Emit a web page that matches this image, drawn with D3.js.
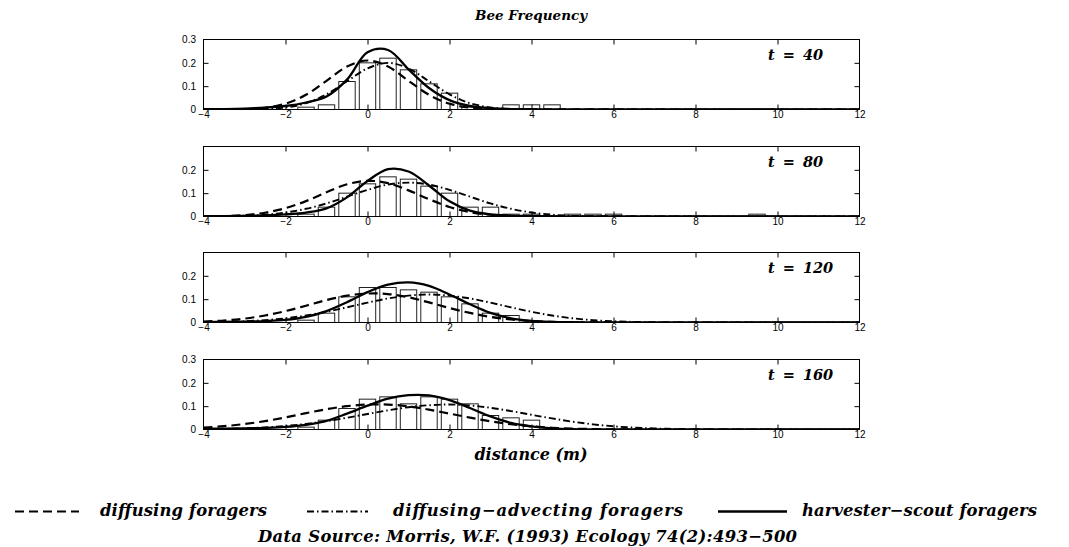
<!DOCTYPE html>
<html>
<head>
<meta charset="utf-8">
<script src="https://cdn.jsdelivr.net/npm/d3@7"></script>
<style>
  body { margin: 0; background: #fff; }
  svg { display: block; }
  .tick text { font-family: "Liberation Sans", Arial, Helvetica, sans-serif; font-size: 10px; fill: #000; }
  .serif { font-family: "DejaVu Serif", serif; font-weight: bold; font-style: italic; fill: #000; }
</style>
</head>
<body>
<svg id="chart" width="1069" height="547"></svg>
<script>
// Distance grid (m) on which the model densities are tabulated
const distance = [-4, -3.5, -3, -2.5, -2, -1.5, -1, -0.5, 0, 0.5, 1, 1.5, 2, 2.5, 3, 3.5, 4,
                  4.5, 5, 5.5, 6, 6.5, 7, 7.5, 8, 8.5, 9, 9.5, 10, 10.5, 11, 11.5, 12];

// Diffusing foragers
const diffusing40  = [0, 0.0003, 0.0017, 0.0076, 0.025, 0.063, 0.123, 0.184, 0.21, 0.184, 0.123, 0.063, 0.025, 0.0076, 0.0017, 0.0003, 0,
                      0, 0, 0, 0, 0, 0, 0, 0, 0, 0, 0, 0, 0, 0, 0, 0];
const diffusing80  = [0.0005, 0.0019, 0.0061, 0.016, 0.036, 0.066, 0.104, 0.138, 0.153, 0.143, 0.112, 0.074, 0.041, 0.019, 0.0075, 0.0025, 0.0007,
                      0.0002, 0, 0, 0, 0, 0, 0, 0, 0, 0, 0, 0, 0, 0, 0, 0];
const diffusing120 = [0.0038, 0.0084, 0.0167, 0.030, 0.049, 0.072, 0.096, 0.115, 0.124, 0.122, 0.108, 0.086, 0.062, 0.041, 0.024, 0.013, 0.0062,
                      0.0027, 0.0011, 0.0004, 0.0001, 0, 0, 0, 0, 0, 0, 0, 0, 0, 0, 0, 0];
const diffusing160 = [0.0079, 0.0142, 0.0235, 0.036, 0.052, 0.070, 0.087, 0.100, 0.107, 0.107, 0.099, 0.085, 0.068, 0.051, 0.035, 0.0227, 0.0135,
                      0.0075, 0.0039, 0.0019, 0.0008, 0.0003, 0.0001, 0, 0, 0, 0, 0, 0, 0, 0, 0, 0];

// Diffusing-advecting foragers
const advecting40  = [0, 0.0001, 0.0004, 0.0022, 0.0088, 0.027, 0.065, 0.121, 0.176, 0.2, 0.176, 0.121, 0.065, 0.027, 0.0088, 0.0022, 0.0004,
                      0.0001, 0, 0, 0, 0, 0, 0, 0, 0, 0, 0, 0, 0, 0, 0, 0];
const advecting80  = [0.0004, 0.0012, 0.0032, 0.0078, 0.017, 0.033, 0.056, 0.085, 0.114, 0.137, 0.145, 0.137, 0.114, 0.085, 0.056, 0.033, 0.017,
                      0.0078, 0.0032, 0.0012, 0.0004, 0, 0, 0, 0, 0, 0, 0, 0, 0, 0, 0, 0];
const advecting120 = [0.0011, 0.0025, 0.0053, 0.0102, 0.018, 0.030, 0.046, 0.065, 0.085, 0.103, 0.115, 0.12, 0.115, 0.103, 0.085, 0.065, 0.046,
                      0.030, 0.018, 0.0102, 0.0053, 0.0025, 0.0011, 0.0004, 0.0001, 0, 0, 0, 0, 0, 0, 0, 0];
const advecting160 = [0.0013, 0.0026, 0.005, 0.009, 0.0152, 0.024, 0.036, 0.0505, 0.0665, 0.082, 0.0956, 0.104, 0.107, 0.103, 0.093, 0.079, 0.063,
                      0.0475, 0.0335, 0.0222, 0.0138, 0.008, 0.0044, 0.0023, 0.0011, 0.0005, 0.0002, 0, 0, 0, 0, 0, 0];

// Harvester-scout foragers
const scout40  = [0.001, 0.002, 0.004, 0.008, 0.015, 0.03, 0.056, 0.128, 0.245, 0.255, 0.172, 0.092, 0.04, 0.015, 0.006, 0.002, 0.001,
                  0, 0, 0, 0, 0, 0, 0, 0, 0, 0, 0, 0, 0, 0, 0, 0];
const scout80  = [0.001, 0.002, 0.003, 0.005, 0.009, 0.017, 0.035, 0.082, 0.152, 0.203, 0.193, 0.133, 0.065, 0.025, 0.009, 0.004, 0.002,
                  0.001, 0, 0, 0, 0, 0, 0, 0, 0, 0, 0, 0, 0, 0, 0, 0];
const scout120 = [0.002, 0.003, 0.004, 0.006, 0.011, 0.024, 0.049, 0.087, 0.13, 0.162, 0.172, 0.157, 0.12, 0.078, 0.041, 0.018, 0.007,
                  0.0025, 0.001, 0.0003, 0, 0, 0, 0, 0, 0, 0, 0, 0, 0, 0, 0, 0];
const scout160 = [0.003, 0.004, 0.005, 0.007, 0.011, 0.02, 0.037, 0.068, 0.102, 0.132, 0.147, 0.146, 0.126, 0.092, 0.056, 0.028, 0.013,
                  0.005, 0.0015, 0.0005, 0.0002, 0, 0, 0, 0, 0, 0, 0, 0, 0, 0, 0, 0];

// Observed bee frequencies per 0.5 m distance class
const binCenters = [-1.5, -1, -0.5, 0, 0.5, 1, 1.5, 2, 2.5, 3, 3.5, 4, 4.5, 5, 5.5, 6, 6.5, 7, 7.5, 8, 8.5, 9, 9.5];
const bees40  = [0.01, 0.02, 0.12, 0.20, 0.22, 0.17, 0.11, 0.07, 0.01, 0, 0.02, 0.02, 0.02, 0, 0, 0, 0, 0, 0, 0, 0, 0, 0];
const bees80  = [0.01, 0.04, 0.10, 0.14, 0.17, 0.16, 0.13, 0.10, 0.04, 0.04, 0.01, 0.01, 0, 0.01, 0.01, 0.01, 0, 0, 0, 0, 0, 0, 0.01];
const bees120 = [0.01, 0.04, 0.11, 0.15, 0.15, 0.14, 0.13, 0.11, 0.08, 0.04, 0.03, 0, 0, 0, 0, 0, 0, 0, 0, 0, 0, 0, 0];
const bees160 = [0.01, 0.04, 0.09, 0.13, 0.14, 0.11, 0.14, 0.13, 0.11, 0.06, 0.05, 0.04, 0, 0, 0, 0, 0, 0, 0, 0, 0, 0, 0];

const times = [40, 80, 120, 160];
const xTicks = [-4, -2, 0, 2, 4, 6, 8, 10, 12];
const yTicksFull = [0, 0.1, 0.2, 0.3];
const yTicksShort = [0, 0.1, 0.2];

const panels = [
  { time: times[0], bees: bees40,  diffusing: diffusing40,  advecting: advecting40,  scout: scout40,  yTicks: yTicksFull },
  { time: times[1], bees: bees80,  diffusing: diffusing80,  advecting: advecting80,  scout: scout80,  yTicks: yTicksShort },
  { time: times[2], bees: bees120, diffusing: diffusing120, advecting: advecting120, scout: scout120, yTicks: yTicksShort },
  { time: times[3], bees: bees160, diffusing: diffusing160, advecting: advecting160, scout: scout160, yTicks: yTicksFull }
];

const legendLabels = ["diffusing foragers", "diffusing\u2212advecting foragers", "harvester\u2212scout foragers"];

// ---------------------------------------------------------------
const svg = d3.select("#chart");
const plotLeft = 203.5, plotRight = 859.5;
const panelTops = [39.5, 146.5, 252.5, 359.5];
const panelHeight = 70;
const tickLen = 5;

const x = d3.scaleLinear().domain([-4, 12]).range([plotLeft, plotRight]);

const styles = {
  diffusing: { dash: "9,5", width: 2.2 },
  advecting: { dash: "7,3,1.5,3", width: 1.9 },
  scout:     { dash: null, width: 2.3 }
};

panels.forEach((p, i) => {
  const top = panelTops[i], bottom = top + panelHeight;
  const y = d3.scaleLinear().domain([0, 0.3]).range([bottom, top]);
  const g = svg.append("g");

  const clipId = "clip" + i;
  svg.append("clipPath").attr("id", clipId)
    .append("rect").attr("x", plotLeft).attr("y", top)
    .attr("width", plotRight - plotLeft).attr("height", panelHeight);

  // histogram bars
  const bins = binCenters.map((c, k) => ({ c, v: p.bees[k] })).filter(d => d.v > 0);
  g.append("g").selectAll("rect").data(bins).join("rect")
    .attr("x", d => x(d.c - 0.2))
    .attr("width", d => x(d.c + 0.2) - x(d.c - 0.2))
    .attr("y", d => y(d.v))
    .attr("height", d => y(0) - y(d.v))
    .attr("fill", "#fff")
    .attr("stroke", "#222")
    .attr("stroke-width", 1);

  // model curves
  const line = d3.line()
    .x((d, k) => x(distance[k]))
    .y(d => y(d))
    .curve(d3.curveCatmullRom.alpha(0.5));

  const curves = g.append("g").attr("clip-path", `url(#${clipId})`);
  ["diffusing", "advecting", "scout"].forEach(key => {
    curves.append("path")
      .attr("d", line(p[key]))
      .attr("fill", "none")
      .attr("stroke", "#000")
      .attr("stroke-width", styles[key].width)
      .attr("stroke-dasharray", styles[key].dash);
  });

  // frame
  g.append("rect")
    .attr("x", plotLeft).attr("y", top)
    .attr("width", plotRight - plotLeft).attr("height", panelHeight)
    .attr("fill", "none").attr("stroke", "#000").attr("stroke-width", 1);

  // axes with inward ticks on all four sides
  const xb = g.append("g").attr("transform", `translate(0,${bottom})`)
    .call(d3.axisBottom(x).tickValues(xTicks).tickFormat(d3.format("d"))
      .tickSizeInner(-tickLen).tickSizeOuter(0).tickPadding(1.5));
  const xt = g.append("g").attr("transform", `translate(0,${top})`)
    .call(d3.axisTop(x).tickValues(xTicks).tickFormat("")
      .tickSizeInner(-tickLen).tickSizeOuter(0));
  const yl = g.append("g").attr("transform", `translate(${plotLeft},0)`)
    .call(d3.axisLeft(y).tickValues(p.yTicks).tickFormat(d => d === 0 ? "0" : d3.format(".1f")(d))
      .tickSizeInner(-tickLen).tickSizeOuter(0).tickPadding(7.5));
  const yr = g.append("g").attr("transform", `translate(${plotRight},0)`)
    .call(d3.axisRight(y).tickValues(p.yTicks).tickFormat("")
      .tickSizeInner(-tickLen).tickSizeOuter(0));
  [xb, xt, yl, yr].forEach(a => {
    a.select(".domain").remove();
    a.selectAll(".tick line").attr("stroke", "#000");
  });
  xb.selectAll(".tick").filter(d => d === -4 || d === 12).select("line").remove();
  xt.selectAll(".tick").filter(d => d === -4 || d === 12).remove();
  yl.selectAll(".tick").filter(d => d === 0 || d === 0.3).select("line").remove();
  yr.selectAll(".tick").filter(d => d === 0 || d === 0.3).remove();
  yl.selectAll("text").attr("dy", "0.34em");

  // time label
  g.append("text").attr("class", "serif")
    .attr("x", 768).attr("y", top + 20.5)
    .attr("font-size", 14.5)
    .attr("word-spacing", 3)
    .text(`t = ${p.time}`);
});

// title and axis label
svg.append("text").attr("class", "serif")
  .attr("x", 531).attr("y", 20).attr("text-anchor", "middle")
  .attr("font-size", 13.5).text("Bee Frequency");

svg.append("text").attr("class", "serif")
  .attr("x", 531).attr("y", 460).attr("text-anchor", "middle")
  .attr("font-size", 16).text("distance (m)");

// legend
const legendItems = [
  { key: "diffusing", x1: 15,  x2: 79,  tx: 100, len: 167 },
  { key: "advecting", x1: 307, x2: 368, tx: 393, len: 290 },
  { key: "scout",     x1: 718, x2: 787, tx: 802, len: 235 }
];
const legendY = 511.5;
legendItems.forEach((it, k) => {
  svg.append("line")
    .attr("x1", it.x1).attr("x2", it.x2)
    .attr("y1", legendY).attr("y2", legendY)
    .attr("stroke", "#000")
    .attr("stroke-width", styles[it.key].width)
    .attr("stroke-dasharray", styles[it.key].dash);
  svg.append("text").attr("class", "serif")
    .attr("x", it.tx).attr("y", 516)
    .attr("font-size", 16.4)
    .attr("textLength", it.len)
    .attr("lengthAdjust", "spacing")
    .text(legendLabels[k]);
});

svg.append("text").attr("class", "serif")
  .attr("x", 258).attr("y", 541.5)
  .attr("font-size", 16.4)
  .attr("textLength", 539)
  .attr("lengthAdjust", "spacing")
  .text("Data Source: Morris, W.F. (1993) Ecology 74(2):493\u2212500");
</script>
</body>
</html>
